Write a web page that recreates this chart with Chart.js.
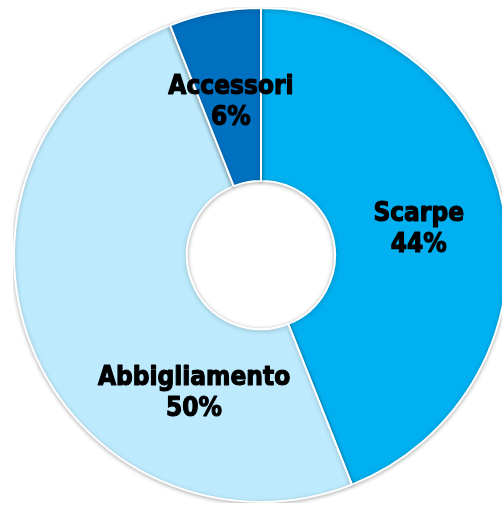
<!DOCTYPE html>
<html>
<head>
<meta charset="utf-8">
<script src="https://cdn.jsdelivr.net/npm/chart.js@4/dist/chart.umd.min.js"></script>
<style>
html, body { margin: 0; padding: 0; overflow: hidden; background: #fff; width: 502px; height: 505px; }
#wrap { position: absolute; left: 13px; top: 7px; width: 496px; height: 496px; }
</style>
</head>
<body>
<div id="wrap"><canvas id="c"></canvas></div>
<script>
const categories = ['Scarpe', 'Abbigliamento', 'Accessori'];
const values = [44, 50, 6];
const percentLabels = ['44%', '50%', '6%'];
const colors = ['#00B0F0', '#BDEBFD', '#0070C0'];
// label placement inside each slice: fraction along the arc and fraction of ring thickness
const labelAngleFrac = [0.5, 0.268, 0.5];
const labelRadiusFrac = [0.5, 0.435, 0.5];

const shadowPlugin = {
  id: 'shadow',
  beforeDatasetsDraw(chart) {
    const ctx = chart.ctx;
    ctx.save();
    ctx.shadowColor = 'rgba(0,0,0,0.28)';
    ctx.shadowBlur = 4;
    ctx.shadowOffsetX = 0;
    ctx.shadowOffsetY = 1;
  },
  afterDatasetsDraw(chart) {
    chart.ctx.restore();
  }
};

const labelPlugin = {
  id: 'sliceLabels',
  afterDraw(chart) {
    const ctx = chart.ctx;
    const meta = chart.getDatasetMeta(0);
    ctx.save();
    ctx.fillStyle = '#000';
    ctx.strokeStyle = '#000';
    ctx.lineWidth = 1.1;
    ctx.lineJoin = 'round';
    ctx.font = 'bold 26px "DejaVu Sans Condensed", "DejaVu Sans", Verdana, sans-serif';
    ctx.textAlign = 'center';
    ctx.textBaseline = 'alphabetic';
    meta.data.forEach((arc, i) => {
      const p = arc.getProps(['x', 'y', 'startAngle', 'endAngle', 'innerRadius', 'outerRadius'], true);
      const a = p.startAngle + (p.endAngle - p.startAngle) * labelAngleFrac[i];
      const r = p.innerRadius + (p.outerRadius - p.innerRadius) * labelRadiusFrac[i];
      const cx = p.x + Math.cos(a) * r;
      const cy = p.y + Math.sin(a) * r;
      ctx.fillText(categories[i], cx, cy - 3.5);
      ctx.strokeText(categories[i], cx, cy - 3.5);
      ctx.fillText(percentLabels[i], cx, cy + 27.5);
      ctx.strokeText(percentLabels[i], cx, cy + 27.5);
    });
    ctx.restore();
  }
};

new Chart(document.getElementById('c'), {
  type: 'doughnut',
  data: {
    labels: categories,
    datasets: [{
      data: values,
      backgroundColor: colors,
      borderColor: '#ffffff',
      borderWidth: 2,
      hoverOffset: 0
    }]
  },
  options: {
    responsive: true,
    maintainAspectRatio: false,
    animation: false,
    cutout: '30%',
    rotation: 0,
    layout: { padding: 0 },
    plugins: {
      legend: { display: false },
      tooltip: { enabled: false }
    }
  },
  plugins: [shadowPlugin, labelPlugin]
});
</script>
</body>
</html>
